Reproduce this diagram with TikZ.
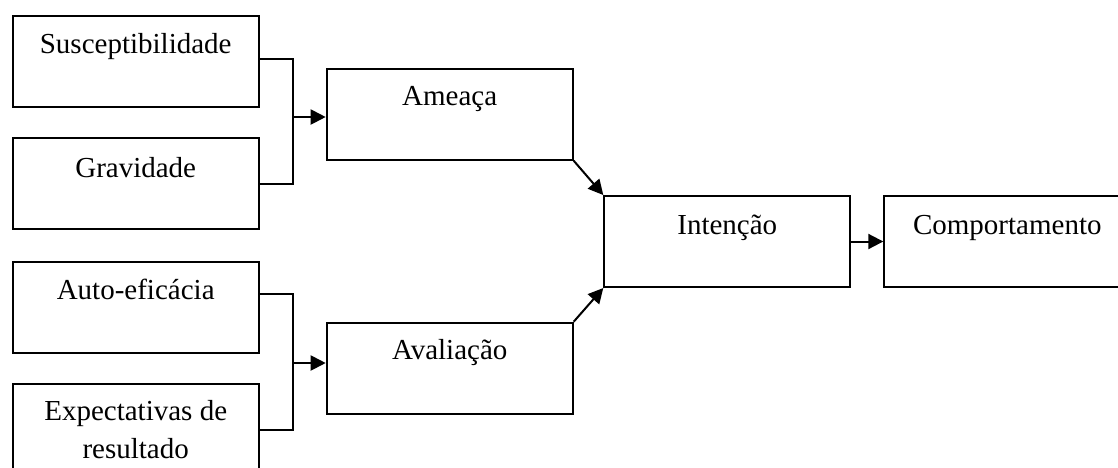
\documentclass[tikz,border=0pt]{standalone}
\usepackage{fontspec}
\setmainfont{Liberation Serif}
\usetikzlibrary{arrows.meta,calc}
\begin{document}
\begin{tikzpicture}[x=1pt,y=-1pt,
  box/.style={draw, line width=2pt, minimum width=246pt, minimum height=91pt, inner sep=0pt, anchor=north west},
  txt/.style={anchor=base, inner sep=0pt, align=center, font=\fontsize{29}{38}\selectfont},
  conn/.style={line width=2pt},
  arr/.style={line width=2pt, -{Triangle[length=15pt,width=15pt]}}]
\useasboundingbox (0,0) rectangle (1118,467);
\clip (0,0) rectangle (1118,467);
% boxes
\node[box] (s)  at (11.7,15)   {};
\node[box] (g)  at (11.7,137)  {};
\node[box] (ae) at (11.7,261)  {};
\node[box] (ex) at (11.7,383)  {};
\node[box] (am) at (325.7,67.7) {};
\node[box] (av) at (325.7,321.7) {};
\node[box] (in) at (603.3,195) {};
\node[box] (co) at (883.3,195) {};
% texts
\node[txt] (ts)  at ($(s.north)+(0,38)$)  {Susceptibilidade};
\node[txt] (tg)  at ($(g.north)+(0,40)$)  {Gravidade};
\node[txt] (tae) at ($(ae.north)+(0,38)$) {Auto-eficácia};
\node[txt] (tex) at ($(ex.north)+(0,75)$) {Expectativas de\\resultado};
\node[txt] (tam) at ($(am.north)+(0,38)$) {Ameaça};
\node[txt] (tav) at ($(av.north)+(0,38)$) {Avaliação};
\node[txt] (tin) at ($(in.north)+(0,39)$) {Intenção};
\node[txt] (tco) at ($(co.north)+(0,39)$) {Comportamento};
% junctions
\coordinate (j1) at (293,117);
\coordinate (j2) at (293,363);
% connectors top group
\draw[conn] ($(s.north east)+(0,44)$) -| (293,0 |- g.east) -- (g.east);
\draw[arr] (j1) -- (j1 -| am.west);
% connectors bottom group
\draw[conn] ($(ae.north east)+(0,33)$) -| (293,0 |- ex.east) -- (ex.east);
\draw[arr] (j2) -- (j2 -| av.west);
% diagonals
\draw[arr] (am.south east) -- (in.north west);
\draw[arr] (av.north east) -- (in.south west);
\draw[arr] (in.east) -- (in.east -| co.west);
\end{tikzpicture}
\end{document}
